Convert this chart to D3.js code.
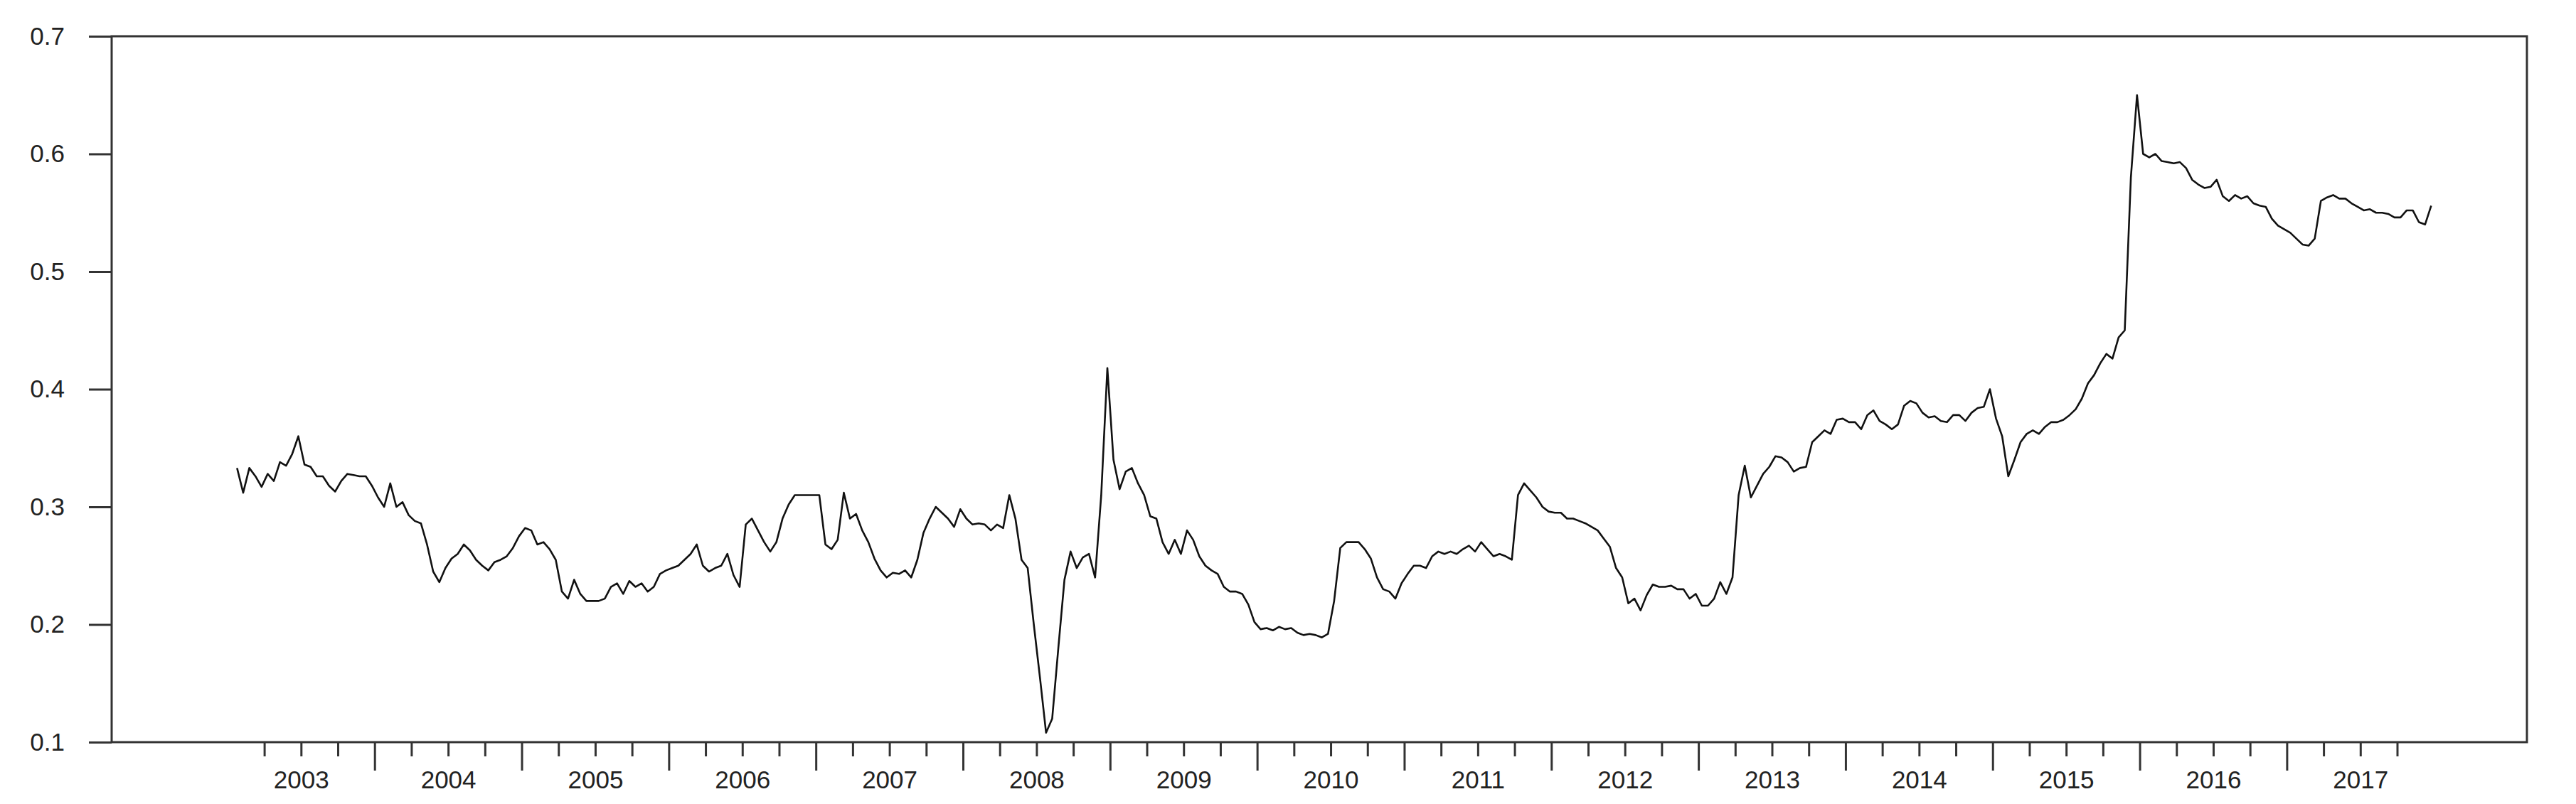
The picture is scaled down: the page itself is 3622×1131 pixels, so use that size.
<!DOCTYPE html>
<html>
<head>
<meta charset="utf-8">
<script src="https://cdn.jsdelivr.net/npm/d3@7"></script>
<style>
  body { margin: 0; background: #fff; }
  text { font-family: "Liberation Sans", Arial, sans-serif; fill: #222; }
</style>
</head>
<body>
<svg id="chart"></svg>
<script>
// semi-monthly observations, 24 per year (null = no data yet)
const years = [2003, 2004, 2005, 2006, 2007, 2008, 2009, 2010, 2011, 2012, 2013, 2014, 2015, 2016, 2017];
const v2003 = [null,.333,.312,.333,.326,.317,.328,.322,.338,.335,.345,.36,.336,.334,.326,.326,.318,.313,.322,.328,.327,.326,.326,.318];
const v2004 = [.308,.30,.32,.30,.304,.293,.288,.286,.268,.245,.236,.248,.256,.26,.268,.263,.255,.25,.246,.253,.255,.258,.265,.275];
const v2005 = [.282,.28,.268,.27,.264,.255,.228,.222,.238,.226,.22,.22,.22,.222,.232,.235,.226,.237,.232,.235,.228,.232,.243,.246];
const v2006 = [.248,.25,.255,.26,.268,.25,.245,.248,.25,.26,.242,.232,.285,.29,.28,.27,.262,.27,.29,.302,.31,.31,.31,.31];
const v2007 = [.31,.268,.264,.272,.312,.29,.294,.28,.27,.256,.246,.24,.244,.243,.246,.24,.255,.278,.29,.3,.295,.29,.283,.298];
const v2008 = [.29,.285,.286,.285,.28,.285,.282,.31,.29,.255,.248,.2,.155,.108,.12,.18,.238,.262,.248,.257,.26,.24,.31,.418];
const v2009 = [.34,.315,.33,.333,.32,.31,.292,.29,.27,.26,.272,.26,.28,.272,.258,.25,.246,.243,.232,.228,.228,.226,.217,.202];
const v2010 = [.196,.197,.195,.198,.196,.197,.193,.191,.192,.191,.189,.192,.22,.265,.27,.27,.27,.264,.256,.24,.23,.228,.222,.235];
const v2011 = [.243,.25,.25,.248,.258,.262,.26,.262,.26,.264,.267,.262,.27,.264,.258,.26,.258,.255,.31,.32,.314,.308,.3,.296];
const v2012 = [.295,.295,.29,.29,.288,.286,.283,.28,.273,.266,.248,.24,.218,.222,.212,.225,.234,.232,.232,.233,.23,.23,.222,.226];
const v2013 = [.216,.216,.222,.236,.226,.24,.31,.335,.308,.318,.328,.334,.343,.342,.338,.33,.333,.334,.355,.36,.365,.362,.374,.375];
const v2014 = [.372,.372,.366,.378,.382,.373,.37,.366,.37,.386,.39,.388,.38,.376,.377,.373,.372,.378,.378,.373,.38,.384,.385,.4];
const v2015 = [.375,.36,.326,.34,.355,.362,.365,.362,.368,.372,.372,.374,.378,.383,.392,.405,.412,.422,.43,.426,.444,.45,.58,.65];
const v2016 = [.6,.597,.6,.594,.593,.592,.593,.588,.578,.574,.571,.572,.578,.564,.56,.565,.562,.564,.558,.556,.555,.545,.539,.536];
const v2017 = [.533,.528,.523,.522,.528,.56,.563,.565,.562,.562,.558,.555,.552,.553,.55,.55,.549,.546,.546,.552,.552,.542,.54,.556];
const yTicks = [0.1, 0.2, 0.3, 0.4, 0.5, 0.6, 0.7];

const series = [v2003, v2004, v2005, v2006, v2007, v2008, v2009, v2010, v2011, v2012, v2013, v2014, v2015, v2016, v2017];
const data = [];
years.forEach((yr, k) => series[k].forEach((v, i) => data.push({ t: yr + (i + 0.5) / 24, v })));

const W = 3622, H = 1131;
const margin = { top: 51, right: 69, bottom: 87, left: 157 };
const width = W - margin.left - margin.right;
const height = H - margin.top - margin.bottom;

const svg = d3.select('#chart').attr('width', W).attr('height', H);
const g = svg.append('g').attr('transform', `translate(${margin.left},${margin.top})`);

const x = d3.scaleLinear().domain([2002.21, 2018.63]).range([0, width]);
const y = d3.scaleLinear().domain([0.1, 0.7]).range([height, 0]);

// y axis with outward ticks
const yAxis = d3.axisLeft(y).tickValues(yTicks).tickSize(32).tickPadding(34).tickFormat(d3.format('.1f'));
g.append('g').call(yAxis)
  .call(a => a.select('.domain').remove())
  .call(a => a.selectAll('line').attr('stroke', '#333').attr('stroke-width', 3))
  .call(a => a.selectAll('text').style('font-size', '35px').attr('fill', '#222'));

// quarterly ticks along the bottom, longer at year starts
const quarters = [];
for (let yr = 2003; yr <= 2017; yr++) [0, 0.25, 0.5, 0.75].forEach(q => {
  const t = yr + q;
  if (t >= 2003.25 && t <= 2017.75) quarters.push(t);
});
g.append('g').selectAll('line').data(quarters).join('line')
  .attr('x1', d => x(d)).attr('x2', d => x(d))
  .attr('y1', height).attr('y2', d => height + (d % 1 === 0 ? 40 : 20))
  .attr('stroke', '#333').attr('stroke-width', 3);

g.append('g').selectAll('text').data(years).join('text')
  .attr('x', d => x(d + 0.5)).attr('y', height + 65)
  .attr('text-anchor', 'middle').style('font-size', '35px')
  .text(d => d);

// frame
g.append('rect').attr('width', width).attr('height', height)
  .attr('fill', 'none').attr('stroke', '#333').attr('stroke-width', 3);

const line = d3.line().defined(d => d.v != null).x(d => x(d.t)).y(d => y(d.v));
g.append('path').datum(data)
  .attr('fill', 'none').attr('stroke', '#111').attr('stroke-width', 2.6)
  .attr('stroke-linejoin', 'round').attr('d', line);
</script>
</body>
</html>
